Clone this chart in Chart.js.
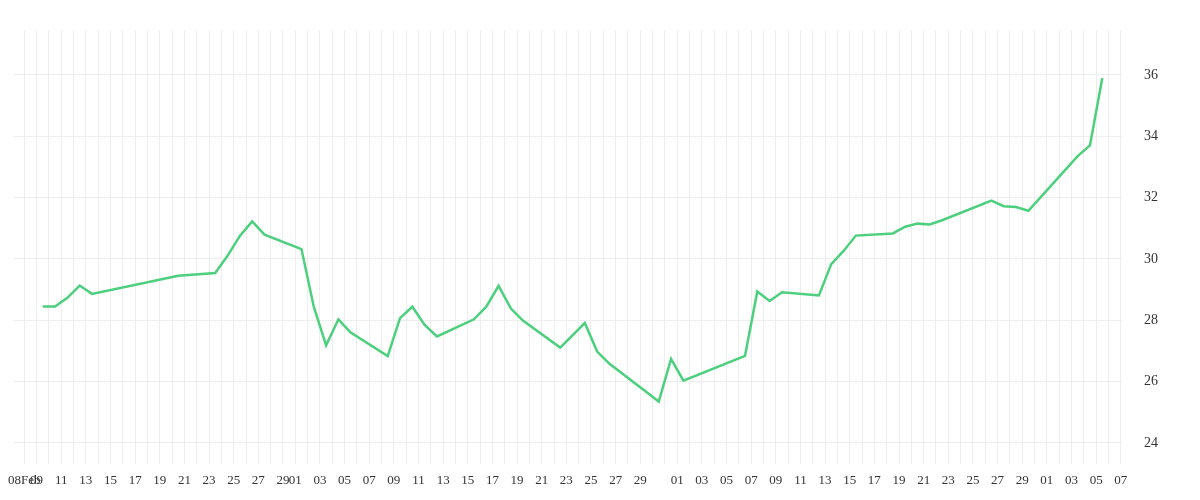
<!DOCTYPE html>
<html><head><meta charset="utf-8">
<script src="https://cdn.jsdelivr.net/npm/chart.js@4.4.1/dist/chart.umd.min.js"></script>
<style>html,body{margin:0;background:#fff}#w{width:1200px;height:500px}</style>
</head><body><div id="w"><canvas id="c"></canvas></div>
<script>
// day offsets from 08 Feb
const days = [1,2,3,4,5,12,15,16,17,18,19,22,23,24,25,26,29,30,31,32,33,36,37,38,39,40,43,45,46,47,50,51,52,53,58,59,60,61,64,65,66,67,70,71,72,73,74,78,79,80,81,85,86,87];
const prices = [28.45,28.45,28.73,29.13,28.86,29.45,29.54,30.1,30.75,31.22,30.79,30.32,28.44,27.18,28.03,27.6,26.83,28.07,28.44,27.85,27.47,28.03,28.44,29.12,28.38,27.98,27.11,27.91,26.98,26.58,25.66,25.35,26.74,26.03,26.84,28.94,28.63,28.91,28.81,29.83,30.26,30.76,30.83,31.05,31.15,31.12,31.26,31.9,31.72,31.69,31.57,33.35,33.7,35.9];
const monthDays = [29,31,30,31]; // Feb(2024), Mar, Apr, May
const startDay = 8;
const yTicks = [24,26,28,30,32,34,36];

function dateOf(d){
  let m=0, day=startDay+d;
  while(day>monthDays[m]){day-=monthDays[m];m++;}
  return {m,day};
}
function label(d){
  if(d===0) return '08Feb';
  const {day}=dateOf(d);
  if(day===31) return '';
  if(day%2===1) return String(day).padStart(2,'0');
  return '';
}
const pts = days.map((d,i)=>({x:d+0.5,y:prices[i]}));
new Chart(document.getElementById('c'),{
  type:'line',
  data:{datasets:[{data:pts,borderColor:'#4cd07d',borderWidth:2.5,pointRadius:0,tension:0}]},
  options:{
    responsive:true,maintainAspectRatio:false,animation:false,
    layout:{padding:{left:0,right:20,top:12,bottom:4}},
    plugins:{legend:{display:false},tooltip:{enabled:false}},
    scales:{
      x:{type:'linear',min:-0.9,max:89.1,
        afterBuildTicks:s=>{const t=[];for(let d=-0.9+0.9;d<=89;d++)t.push({value:d});s.ticks=t;},
        grid:{color:'#eeeeee',drawTicks:false},border:{display:false},
        ticks:{autoSkip:false,maxRotation:0,padding:8,color:'#333',font:{family:'Liberation Serif',size:13},callback:v=>label(Math.round(v))}},
      y:{position:'right',min:23.3,max:37.45,
        afterBuildTicks:s=>{s.ticks=yTicks.map(v=>({value:v}));},
        grid:{color:'#eeeeee',drawTicks:false},border:{display:false},
        ticks:{padding:22,color:'#333',font:{family:'Liberation Serif',size:14}}}
    }
  }
});
</script></body></html>
